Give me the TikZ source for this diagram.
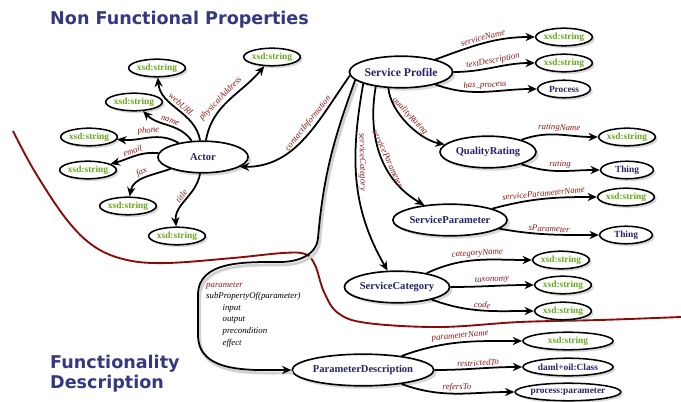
\documentclass[tikz,border=0pt]{standalone}
\usepackage{fontspec}
\setmainfont{Liberation Serif}
\newfontfamily\headfont{DejaVu Sans}
\usetikzlibrary{shapes,arrows.meta,shadows,positioning}
\definecolor{classblue}{RGB}{38,36,105}
\definecolor{litgreen}{RGB}{104,168,28}
\definecolor{propred}{RGB}{140,24,24}
\definecolor{headblue}{RGB}{52,56,128}
\definecolor{splitred}{RGB}{140,10,10}
\tikzset{
  cls/.style={ellipse, draw, line width=1.4pt, fill=white, inner sep=0pt,
    minimum height=27pt,
    drop shadow={opacity=0.3, shadow xshift=2.5pt, shadow yshift=-2.5pt},
    text=classblue, font=\bfseries\fontsize{9}{10}\selectfont},
  lit/.style={ellipse, draw, line width=1.3pt, fill=white, inner sep=0pt,
    minimum width=45pt, minimum height=15pt,
    drop shadow={opacity=0.3, shadow xshift=2pt, shadow yshift=-2pt},
    text=litgreen, font=\bfseries\fontsize{8}{9}\selectfont},
  prop/.style={font=\itshape\fontsize{7.5}{8}\selectfont, text=propred,
    sloped, above, inner sep=1.5pt},
  rel/.style={line width=1.5pt, -{Stealth[length=8pt,width=7pt]},
    preaction={draw=black!18, line width=2.5pt, -,
      transform canvas={shift={(1.5pt,-2.5pt)}}}},
  heading/.style={font=\headfont\bfseries\fontsize{15}{17}\selectfont,
    text=headblue, inner sep=0pt}
}
\begin{document}
\begin{tikzpicture}[x=0.03cm,y=0.03cm]
\useasboundingbox (0,0) rectangle (681,-402);
% headings
\node[heading, anchor=base west] (nfp) at (50,-25) {Non Functional Properties};
\node[heading, anchor=north west, align=left] (fd) at (50,-355) {Functionality\\Description};
% dividing line
\draw[splitred, line width=1.6pt] plot[smooth, tension=0.6] coordinates {
  (13,-131) (35,-172) (67,-220) (95,-247) (127,-260) (167,-263) (233,-258)
  (283,-253) (305,-254) (315,-265) (324,-292) (338,-313) (367,-323)
  (440,-327) (520,-322) (600,-320) (681,-317)};
% classes
\draw (401,-72) node[cls, minimum width=82pt, font=\bfseries\fontsize{10}{12}\selectfont] (sp) {Service Profile};
\draw (203,-157) node[cls, minimum width=77pt] (actor) {Actor};
\draw (488,-152) node[cls, minimum width=82pt] (qr) {QualityRating};
\draw (450,-220) node[cls, minimum width=81pt] (spar) {ServiceParameter};
\draw (397,-287) node[cls, minimum width=76pt] (sc) {ServiceCategory};
\draw (363,-370) node[cls, minimum width=108pt] (pd) {ParameterDescription};
% values
\draw (564,-37) node[lit] (sname) {xsd:string};
\draw (564,-63) node[lit] (tdesc) {xsd:string};
\draw (564,-89) node[lit, text=classblue] (proc) {Process};
\draw (627,-137) node[lit] (rname) {xsd:string};
\draw (627,-170) node[lit, text=classblue] (rthing) {Thing};
\draw (626,-197) node[lit] (pname) {xsd:string};
\draw (626,-235) node[lit, text=classblue] (pthing) {Thing};
\draw (561,-260) node[lit] (cname) {xsd:string};
\draw (563,-285) node[lit] (ctax) {xsd:string};
\draw (563,-311) node[lit] (ccode) {xsd:string};
\draw (568,-341) node[lit, minimum width=77pt] (dname) {xsd:string};
\draw (568,-367) node[lit, minimum width=77pt, text=classblue] (dclass) {daml+oil:Class};
\draw (568,-392) node[lit, minimum width=77pt, text=classblue] (dparam) {process:parameter};
\draw (272,-57) node[lit] (aaddr) {xsd:string};
\draw (157,-68) node[lit] (aurl) {xsd:string};
\draw (134,-102) node[lit] (aname) {xsd:string};
\draw (89,-137) node[lit] (aphone) {xsd:string};
\draw (88,-170) node[lit] (amail) {xsd:string};
\draw (128,-206) node[lit] (afax) {xsd:string};
\draw (177,-236) node[lit] (atitle) {xsd:string};
% properties
\path[rel]
  (sp) edge[out=20, in=180] node[prop] {serviceName} (sname)
       edge[out=0, in=180] node[prop] {textDescription} (tdesc)
       edge[out=-20, in=180] node[prop] {has\_process} (proc)
  (sp.-128) edge[out=-85, in=170, looseness=0.8] node[prop, pos=0.45] {qualityRating} (qr)
  (sp.-150) edge[out=-100, in=150] node[prop, pos=0.55] {serviceParameter} (spar)
  (sp.-163) edge[out=-100, in=120] node[prop, pos=0.4] {serviceCategory} (sc)
  (sp.-176) edge[out=-125, in=0] node[prop, pos=0.4] {contactInformation} (actor.-15)
  (actor) edge[out=80, in=-130] node[prop, pos=0.45] {physicalAddress} (aaddr)
          edge[out=100, in=-85] node[prop] {webURL} (aurl)
          edge[out=125, in=-45] node[prop] {name} (aname)
          edge[out=150, in=-5] node[prop] {phone} (aphone)
          edge[out=175, in=15] node[prop] {email} (amail)
          edge[out=200, in=80] node[prop] {fax} (afax)
          edge[out=-100, in=95] node[prop] {title} (atitle)
  (qr) edge[out=20, in=180] node[prop] {ratingName} (rname)
       edge[out=-20, in=180] node[prop] {rating} (rthing)
  (spar) edge[out=15, in=180] node[prop] {serviceParameterName} (pname)
         edge[out=-10, in=180] node[prop] {sParameter} (pthing)
  (sc) edge[out=25, in=180] node[prop] {categoryName} (cname)
       edge[out=0, in=180] node[prop] {taxonomy} (ctax)
       edge[out=-20, in=180] node[prop] {code} (ccode)
  (pd) edge[out=20, in=180] node[prop] {parameterName} (dname)
       edge[out=0, in=180] node[prop] {restrictedTo} (dclass)
       edge[out=-20, in=180] node[prop] {refersTo} (dparam);
% parameter loop
\draw[rel] (sp.-170) to[out=-110, in=85] (318,-238)
  to[out=-95, in=0] (280,-262)
  to[out=180, in=90] (198,-295) -- (198,-335)
  to[out=-90, in=180] (pd);
\node[anchor=north west, align=left, inner sep=0pt,
  font=\itshape\fontsize{7.5}{9.9}\selectfont] (plist) at (206,-282)
  {\textcolor{propred}{parameter}\\ subPropertyOf(parameter)\\
   \hspace*{14pt}input\\ \hspace*{14pt}output\\
   \hspace*{14pt}precondition\\ \hspace*{14pt}effect};
\end{tikzpicture}
\end{document}
